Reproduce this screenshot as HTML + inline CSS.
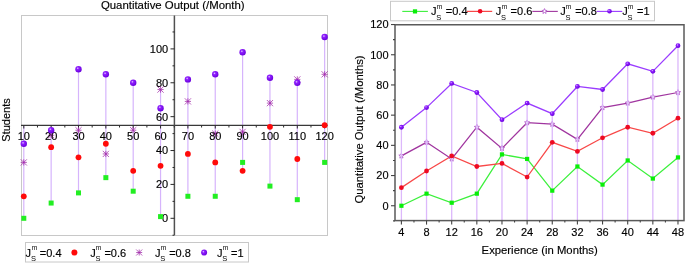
<!DOCTYPE html>
<html><head><meta charset="utf-8"><style>
html,body{margin:0;padding:0;background:#fff;}
svg{display:block;will-change:transform;}
text{font-family:"Liberation Sans", sans-serif;fill:#000;stroke:#000;stroke-width:0.15px;}
text.sm{stroke:none;}
</style></head><body>
<svg width="685" height="263" viewBox="0 0 685 263">
<defs>
<radialGradient id="gb" cx="0.38" cy="0.35" r="0.65">
<stop offset="0" stop-color="#e4ccff"/>
<stop offset="0.3" stop-color="#9020ff"/>
<stop offset="1" stop-color="#6a00dd"/>
</radialGradient>
</defs>
<rect width="685" height="263" fill="#fff"/>
<rect x="21.5" y="15.5" width="306" height="220" fill="none" stroke="#c8c8c8" stroke-width="1"/>
<text x="172.75" y="8.6" font-size="11.4" text-anchor="middle">Quantitative Output (/Month)</text>
<text transform="translate(9.8,120) rotate(-90)" font-size="11" text-anchor="middle">Students</text>
<line x1="23.80" x2="23.80" y1="125.50" y2="218.30" stroke="#d6b4fc" stroke-width="1.2"/>
<line x1="51.15" x2="51.15" y1="125.50" y2="203.05" stroke="#d6b4fc" stroke-width="1.2"/>
<line x1="78.50" x2="78.50" y1="69.23" y2="192.89" stroke="#d6b4fc" stroke-width="1.2"/>
<line x1="105.85" x2="105.85" y1="74.31" y2="177.64" stroke="#d6b4fc" stroke-width="1.2"/>
<line x1="133.20" x2="133.20" y1="82.78" y2="191.20" stroke="#d6b4fc" stroke-width="1.2"/>
<line x1="160.55" x2="160.55" y1="89.56" y2="216.61" stroke="#d6b4fc" stroke-width="1.2"/>
<line x1="187.90" x2="187.90" y1="79.39" y2="196.28" stroke="#d6b4fc" stroke-width="1.2"/>
<line x1="215.25" x2="215.25" y1="74.31" y2="196.28" stroke="#d6b4fc" stroke-width="1.2"/>
<line x1="242.60" x2="242.60" y1="52.29" y2="170.87" stroke="#d6b4fc" stroke-width="1.2"/>
<line x1="269.95" x2="269.95" y1="77.70" y2="186.11" stroke="#d6b4fc" stroke-width="1.2"/>
<line x1="297.30" x2="297.30" y1="79.39" y2="199.67" stroke="#d6b4fc" stroke-width="1.2"/>
<line x1="324.65" x2="324.65" y1="37.04" y2="162.40" stroke="#d6b4fc" stroke-width="1.2"/>
<line x1="21" x2="327.5" y1="125.4" y2="125.4" stroke="#383838" stroke-width="1.2"/>
<line x1="174.4" x2="174.4" y1="15.5" y2="235" stroke="#505050" stroke-width="1.5"/>
<line x1="23.80" x2="23.80" y1="125.5" y2="128.5" stroke="#2a2a2a" stroke-width="1"/>
<line x1="37.48" x2="37.48" y1="125.5" y2="127.5" stroke="#2a2a2a" stroke-width="1"/>
<line x1="51.15" x2="51.15" y1="125.5" y2="128.5" stroke="#2a2a2a" stroke-width="1"/>
<line x1="64.83" x2="64.83" y1="125.5" y2="127.5" stroke="#2a2a2a" stroke-width="1"/>
<line x1="78.50" x2="78.50" y1="125.5" y2="128.5" stroke="#2a2a2a" stroke-width="1"/>
<line x1="92.17" x2="92.17" y1="125.5" y2="127.5" stroke="#2a2a2a" stroke-width="1"/>
<line x1="105.85" x2="105.85" y1="125.5" y2="128.5" stroke="#2a2a2a" stroke-width="1"/>
<line x1="119.52" x2="119.52" y1="125.5" y2="127.5" stroke="#2a2a2a" stroke-width="1"/>
<line x1="133.20" x2="133.20" y1="125.5" y2="128.5" stroke="#2a2a2a" stroke-width="1"/>
<line x1="146.88" x2="146.88" y1="125.5" y2="127.5" stroke="#2a2a2a" stroke-width="1"/>
<line x1="160.55" x2="160.55" y1="125.5" y2="128.5" stroke="#2a2a2a" stroke-width="1"/>
<line x1="174.22" x2="174.22" y1="125.5" y2="127.5" stroke="#2a2a2a" stroke-width="1"/>
<line x1="187.90" x2="187.90" y1="125.5" y2="128.5" stroke="#2a2a2a" stroke-width="1"/>
<line x1="201.58" x2="201.58" y1="125.5" y2="127.5" stroke="#2a2a2a" stroke-width="1"/>
<line x1="215.25" x2="215.25" y1="125.5" y2="128.5" stroke="#2a2a2a" stroke-width="1"/>
<line x1="228.93" x2="228.93" y1="125.5" y2="127.5" stroke="#2a2a2a" stroke-width="1"/>
<line x1="242.60" x2="242.60" y1="125.5" y2="128.5" stroke="#2a2a2a" stroke-width="1"/>
<line x1="256.27" x2="256.27" y1="125.5" y2="127.5" stroke="#2a2a2a" stroke-width="1"/>
<line x1="269.95" x2="269.95" y1="125.5" y2="128.5" stroke="#2a2a2a" stroke-width="1"/>
<line x1="283.62" x2="283.62" y1="125.5" y2="127.5" stroke="#2a2a2a" stroke-width="1"/>
<line x1="297.30" x2="297.30" y1="125.5" y2="128.5" stroke="#2a2a2a" stroke-width="1"/>
<line x1="310.98" x2="310.98" y1="125.5" y2="127.5" stroke="#2a2a2a" stroke-width="1"/>
<line x1="324.65" x2="324.65" y1="125.5" y2="128.5" stroke="#2a2a2a" stroke-width="1"/>
<line x1="172.5" x2="174.5" y1="235.24" y2="235.24" stroke="#2a2a2a" stroke-width="1"/>
<line x1="170.5" x2="174.5" y1="218.30" y2="218.30" stroke="#2a2a2a" stroke-width="1"/>
<line x1="172.5" x2="174.5" y1="201.36" y2="201.36" stroke="#2a2a2a" stroke-width="1"/>
<line x1="170.5" x2="174.5" y1="184.42" y2="184.42" stroke="#2a2a2a" stroke-width="1"/>
<line x1="172.5" x2="174.5" y1="167.48" y2="167.48" stroke="#2a2a2a" stroke-width="1"/>
<line x1="170.5" x2="174.5" y1="150.54" y2="150.54" stroke="#2a2a2a" stroke-width="1"/>
<line x1="172.5" x2="174.5" y1="133.60" y2="133.60" stroke="#2a2a2a" stroke-width="1"/>
<line x1="170.5" x2="174.5" y1="116.66" y2="116.66" stroke="#2a2a2a" stroke-width="1"/>
<line x1="172.5" x2="174.5" y1="99.72" y2="99.72" stroke="#2a2a2a" stroke-width="1"/>
<line x1="170.5" x2="174.5" y1="82.78" y2="82.78" stroke="#2a2a2a" stroke-width="1"/>
<line x1="172.5" x2="174.5" y1="65.84" y2="65.84" stroke="#2a2a2a" stroke-width="1"/>
<line x1="170.5" x2="174.5" y1="48.90" y2="48.90" stroke="#2a2a2a" stroke-width="1"/>
<line x1="172.5" x2="174.5" y1="31.96" y2="31.96" stroke="#2a2a2a" stroke-width="1"/>
<text x="168.2" y="222.20" font-size="11" text-anchor="end">0</text>
<text x="168.2" y="188.32" font-size="11" text-anchor="end">20</text>
<text x="168.2" y="154.44" font-size="11" text-anchor="end">40</text>
<text x="168.2" y="120.56" font-size="11" text-anchor="end">60</text>
<text x="168.2" y="86.68" font-size="11" text-anchor="end">80</text>
<text x="168.2" y="52.80" font-size="11" text-anchor="end">100</text>
<rect x="21.30" y="215.80" width="5" height="5" fill="#22ee22"/>
<rect x="48.65" y="200.55" width="5" height="5" fill="#22ee22"/>
<rect x="76.00" y="190.39" width="5" height="5" fill="#22ee22"/>
<rect x="103.35" y="175.14" width="5" height="5" fill="#22ee22"/>
<rect x="130.70" y="188.70" width="5" height="5" fill="#22ee22"/>
<rect x="158.05" y="214.11" width="5" height="5" fill="#22ee22"/>
<rect x="185.40" y="193.78" width="5" height="5" fill="#22ee22"/>
<rect x="212.75" y="193.78" width="5" height="5" fill="#22ee22"/>
<rect x="240.10" y="159.90" width="5" height="5" fill="#22ee22"/>
<rect x="267.45" y="183.61" width="5" height="5" fill="#22ee22"/>
<rect x="294.80" y="197.17" width="5" height="5" fill="#22ee22"/>
<rect x="322.15" y="159.90" width="5" height="5" fill="#22ee22"/>
<circle cx="23.80" cy="196.28" r="2.9" fill="#ff0a0a"/>
<circle cx="51.15" cy="147.15" r="2.9" fill="#ff0a0a"/>
<circle cx="78.50" cy="157.32" r="2.9" fill="#ff0a0a"/>
<circle cx="105.85" cy="143.76" r="2.9" fill="#ff0a0a"/>
<circle cx="133.20" cy="170.87" r="2.9" fill="#ff0a0a"/>
<circle cx="160.55" cy="165.79" r="2.9" fill="#ff0a0a"/>
<circle cx="187.90" cy="153.93" r="2.9" fill="#ff0a0a"/>
<circle cx="215.25" cy="162.40" r="2.9" fill="#ff0a0a"/>
<circle cx="242.60" cy="170.87" r="2.9" fill="#ff0a0a"/>
<circle cx="269.95" cy="126.82" r="2.9" fill="#ff0a0a"/>
<circle cx="297.30" cy="159.01" r="2.9" fill="#ff0a0a"/>
<circle cx="324.65" cy="125.13" r="2.9" fill="#ff0a0a"/>
<line x1="20.70" y1="162.40" x2="26.90" y2="162.40" stroke="#a02aa8" stroke-width="0.75"/><line x1="23.80" y1="159.30" x2="23.80" y2="165.50" stroke="#a02aa8" stroke-width="0.75"/><line x1="20.70" y1="159.30" x2="26.90" y2="165.50" stroke="#a02aa8" stroke-width="0.75"/><line x1="20.70" y1="165.50" x2="26.90" y2="159.30" stroke="#a02aa8" stroke-width="0.75"/>
<line x1="48.05" y1="135.29" x2="54.25" y2="135.29" stroke="#a02aa8" stroke-width="0.75"/><line x1="51.15" y1="132.19" x2="51.15" y2="138.39" stroke="#a02aa8" stroke-width="0.75"/><line x1="48.05" y1="132.19" x2="54.25" y2="138.39" stroke="#a02aa8" stroke-width="0.75"/><line x1="48.05" y1="138.39" x2="54.25" y2="132.19" stroke="#a02aa8" stroke-width="0.75"/>
<line x1="75.40" y1="130.21" x2="81.60" y2="130.21" stroke="#a02aa8" stroke-width="0.75"/><line x1="78.50" y1="127.11" x2="78.50" y2="133.31" stroke="#a02aa8" stroke-width="0.75"/><line x1="75.40" y1="127.11" x2="81.60" y2="133.31" stroke="#a02aa8" stroke-width="0.75"/><line x1="75.40" y1="133.31" x2="81.60" y2="127.11" stroke="#a02aa8" stroke-width="0.75"/>
<line x1="102.75" y1="153.93" x2="108.95" y2="153.93" stroke="#a02aa8" stroke-width="0.75"/><line x1="105.85" y1="150.83" x2="105.85" y2="157.03" stroke="#a02aa8" stroke-width="0.75"/><line x1="102.75" y1="150.83" x2="108.95" y2="157.03" stroke="#a02aa8" stroke-width="0.75"/><line x1="102.75" y1="157.03" x2="108.95" y2="150.83" stroke="#a02aa8" stroke-width="0.75"/>
<line x1="130.10" y1="130.21" x2="136.30" y2="130.21" stroke="#a02aa8" stroke-width="0.75"/><line x1="133.20" y1="127.11" x2="133.20" y2="133.31" stroke="#a02aa8" stroke-width="0.75"/><line x1="130.10" y1="127.11" x2="136.30" y2="133.31" stroke="#a02aa8" stroke-width="0.75"/><line x1="130.10" y1="133.31" x2="136.30" y2="127.11" stroke="#a02aa8" stroke-width="0.75"/>
<line x1="157.45" y1="89.56" x2="163.65" y2="89.56" stroke="#a02aa8" stroke-width="0.75"/><line x1="160.55" y1="86.46" x2="160.55" y2="92.66" stroke="#a02aa8" stroke-width="0.75"/><line x1="157.45" y1="86.46" x2="163.65" y2="92.66" stroke="#a02aa8" stroke-width="0.75"/><line x1="157.45" y1="92.66" x2="163.65" y2="86.46" stroke="#a02aa8" stroke-width="0.75"/>
<line x1="184.80" y1="101.41" x2="191.00" y2="101.41" stroke="#a02aa8" stroke-width="0.75"/><line x1="187.90" y1="98.31" x2="187.90" y2="104.51" stroke="#a02aa8" stroke-width="0.75"/><line x1="184.80" y1="98.31" x2="191.00" y2="104.51" stroke="#a02aa8" stroke-width="0.75"/><line x1="184.80" y1="104.51" x2="191.00" y2="98.31" stroke="#a02aa8" stroke-width="0.75"/>
<line x1="212.15" y1="133.60" x2="218.35" y2="133.60" stroke="#a02aa8" stroke-width="0.75"/><line x1="215.25" y1="130.50" x2="215.25" y2="136.70" stroke="#a02aa8" stroke-width="0.75"/><line x1="212.15" y1="130.50" x2="218.35" y2="136.70" stroke="#a02aa8" stroke-width="0.75"/><line x1="212.15" y1="136.70" x2="218.35" y2="130.50" stroke="#a02aa8" stroke-width="0.75"/>
<line x1="239.50" y1="131.91" x2="245.70" y2="131.91" stroke="#a02aa8" stroke-width="0.75"/><line x1="242.60" y1="128.81" x2="242.60" y2="135.01" stroke="#a02aa8" stroke-width="0.75"/><line x1="239.50" y1="128.81" x2="245.70" y2="135.01" stroke="#a02aa8" stroke-width="0.75"/><line x1="239.50" y1="135.01" x2="245.70" y2="128.81" stroke="#a02aa8" stroke-width="0.75"/>
<line x1="266.85" y1="103.11" x2="273.05" y2="103.11" stroke="#a02aa8" stroke-width="0.75"/><line x1="269.95" y1="100.01" x2="269.95" y2="106.21" stroke="#a02aa8" stroke-width="0.75"/><line x1="266.85" y1="100.01" x2="273.05" y2="106.21" stroke="#a02aa8" stroke-width="0.75"/><line x1="266.85" y1="106.21" x2="273.05" y2="100.01" stroke="#a02aa8" stroke-width="0.75"/>
<line x1="294.20" y1="79.39" x2="300.40" y2="79.39" stroke="#a02aa8" stroke-width="0.75"/><line x1="297.30" y1="76.29" x2="297.30" y2="82.49" stroke="#a02aa8" stroke-width="0.75"/><line x1="294.20" y1="76.29" x2="300.40" y2="82.49" stroke="#a02aa8" stroke-width="0.75"/><line x1="294.20" y1="82.49" x2="300.40" y2="76.29" stroke="#a02aa8" stroke-width="0.75"/>
<line x1="321.55" y1="74.31" x2="327.75" y2="74.31" stroke="#a02aa8" stroke-width="0.75"/><line x1="324.65" y1="71.21" x2="324.65" y2="77.41" stroke="#a02aa8" stroke-width="0.75"/><line x1="321.55" y1="71.21" x2="327.75" y2="77.41" stroke="#a02aa8" stroke-width="0.75"/><line x1="321.55" y1="77.41" x2="327.75" y2="71.21" stroke="#a02aa8" stroke-width="0.75"/>
<text x="23.80" y="140.2" font-size="11" text-anchor="middle">10</text>
<text x="51.15" y="140.2" font-size="11" text-anchor="middle">20</text>
<text x="78.50" y="140.2" font-size="11" text-anchor="middle">30</text>
<text x="105.85" y="140.2" font-size="11" text-anchor="middle">40</text>
<text x="133.20" y="140.2" font-size="11" text-anchor="middle">50</text>
<text x="160.55" y="140.2" font-size="11" text-anchor="middle">60</text>
<text x="187.90" y="140.2" font-size="11" text-anchor="middle">70</text>
<text x="215.25" y="140.2" font-size="11" text-anchor="middle">80</text>
<text x="242.60" y="140.2" font-size="11" text-anchor="middle">90</text>
<text x="269.95" y="140.2" font-size="11" text-anchor="middle">100</text>
<text x="297.30" y="140.2" font-size="11" text-anchor="middle">110</text>
<text x="324.65" y="140.2" font-size="11" text-anchor="middle">120</text>
<circle cx="23.80" cy="143.76" r="3.2" fill="url(#gb)"/>
<circle cx="51.15" cy="130.21" r="3.2" fill="url(#gb)"/>
<circle cx="78.50" cy="69.23" r="3.2" fill="url(#gb)"/>
<circle cx="105.85" cy="74.31" r="3.2" fill="url(#gb)"/>
<circle cx="133.20" cy="82.78" r="3.2" fill="url(#gb)"/>
<circle cx="160.55" cy="108.19" r="3.2" fill="url(#gb)"/>
<circle cx="187.90" cy="79.39" r="3.2" fill="url(#gb)"/>
<circle cx="215.25" cy="74.31" r="3.2" fill="url(#gb)"/>
<circle cx="242.60" cy="52.29" r="3.2" fill="url(#gb)"/>
<circle cx="269.95" cy="77.70" r="3.2" fill="url(#gb)"/>
<circle cx="297.30" cy="82.78" r="3.2" fill="url(#gb)"/>
<circle cx="324.65" cy="37.04" r="3.2" fill="url(#gb)"/>
<rect x="25.5" y="242.5" width="223" height="19.5" fill="#fff" stroke="#c8c8c8" stroke-width="1"/>
<text x="25.6" y="256.5" font-size="11">J</text><text x="31.7" y="249.8" font-size="6.6" class="sm">m</text><text x="30.900000000000002" y="260.9" font-size="7.5" class="sm">S</text><text x="39.8" y="256.5" font-size="11">=0.4</text>
<circle cx="74.4" cy="252.6" r="3" fill="#ff0a0a"/>
<text x="90.2" y="256.5" font-size="11">J</text><text x="95.7" y="249.8" font-size="6.6" class="sm">m</text><text x="95.5" y="260.9" font-size="7.5" class="sm">S</text><text x="104.4" y="256.5" font-size="11">=0.6</text>
<line x1="136.20" y1="252.50" x2="142.20" y2="252.50" stroke="#a02aa8" stroke-width="0.75"/><line x1="139.20" y1="249.50" x2="139.20" y2="255.50" stroke="#a02aa8" stroke-width="0.75"/><line x1="136.20" y1="249.50" x2="142.20" y2="255.50" stroke="#a02aa8" stroke-width="0.75"/><line x1="136.20" y1="255.50" x2="142.20" y2="249.50" stroke="#a02aa8" stroke-width="0.75"/>
<text x="155" y="256.5" font-size="11">J</text><text x="160.7" y="249.8" font-size="6.6" class="sm">m</text><text x="160.3" y="260.9" font-size="7.5" class="sm">S</text><text x="169.2" y="256.5" font-size="11">=0.8</text>
<circle cx="204.10" cy="252.60" r="3" fill="url(#gb)"/>
<text x="216.9" y="256.5" font-size="11">J</text><text x="222.7" y="249.8" font-size="6.6" class="sm">m</text><text x="222.20000000000002" y="260.9" font-size="7.5" class="sm">S</text><text x="231.1" y="256.5" font-size="11">=1</text>
<line x1="401.40" x2="401.40" y1="127.23" y2="220.6" stroke="#dcb8fb" stroke-width="1.3"/>
<line x1="426.54" x2="426.54" y1="107.60" y2="220.6" stroke="#dcb8fb" stroke-width="1.3"/>
<line x1="451.69" x2="451.69" y1="83.44" y2="220.6" stroke="#dcb8fb" stroke-width="1.3"/>
<line x1="476.83" x2="476.83" y1="92.50" y2="220.6" stroke="#dcb8fb" stroke-width="1.3"/>
<line x1="501.98" x2="501.98" y1="119.68" y2="220.6" stroke="#dcb8fb" stroke-width="1.3"/>
<line x1="527.12" x2="527.12" y1="103.07" y2="220.6" stroke="#dcb8fb" stroke-width="1.3"/>
<line x1="552.26" x2="552.26" y1="113.64" y2="220.6" stroke="#dcb8fb" stroke-width="1.3"/>
<line x1="577.41" x2="577.41" y1="86.46" y2="220.6" stroke="#dcb8fb" stroke-width="1.3"/>
<line x1="602.55" x2="602.55" y1="89.48" y2="220.6" stroke="#dcb8fb" stroke-width="1.3"/>
<line x1="627.70" x2="627.70" y1="63.81" y2="220.6" stroke="#dcb8fb" stroke-width="1.3"/>
<line x1="652.84" x2="652.84" y1="71.36" y2="220.6" stroke="#dcb8fb" stroke-width="1.3"/>
<line x1="677.98" x2="677.98" y1="45.69" y2="220.6" stroke="#dcb8fb" stroke-width="1.3"/>
<polyline points="401.40,205.75 426.54,193.67 451.69,202.73 476.83,193.67 501.98,154.41 527.12,158.94 552.26,190.65 577.41,166.49 602.55,184.61 627.70,160.45 652.84,178.57 677.98,157.43" fill="none" stroke="#3cf03c" stroke-width="1.25"/>
<polyline points="401.40,187.63 426.54,171.02 451.69,155.92 476.83,166.49 501.98,163.47 527.12,177.06 552.26,142.33 577.41,151.39 602.55,137.80 627.70,127.23 652.84,133.27 677.98,118.17" fill="none" stroke="#f84848" stroke-width="1.25"/>
<polyline points="401.40,155.92 426.54,142.33 451.69,158.94 476.83,127.23 501.98,148.37 527.12,122.70 552.26,124.21 577.41,139.31 602.55,107.60 627.70,103.07 652.84,97.03 677.98,92.50" fill="none" stroke="#a0359f" stroke-width="1.25"/>
<polyline points="401.40,127.23 426.54,107.60 451.69,83.44 476.83,92.50 501.98,119.68 527.12,103.07 552.26,113.64 577.41,86.46 602.55,89.48 627.70,63.81 652.84,71.36 677.98,45.69" fill="none" stroke="#9a3cff" stroke-width="1.25"/>
<polygon points="401.40,153.22 402.11,154.94 403.97,155.09 402.56,156.30 402.99,158.10 401.40,157.14 399.81,158.10 400.24,156.30 398.83,155.09 400.69,154.94" fill="#fff" stroke="#b462cc" stroke-width="0.9"/>
<line x1="401.40" x2="401.40" y1="152.92" y2="158.92" stroke="#dcb8fb" stroke-width="1.3"/>
<polygon points="426.54,139.63 427.26,141.35 429.11,141.50 427.70,142.71 428.13,144.51 426.54,143.54 424.96,144.51 425.39,142.71 423.98,141.50 425.83,141.35" fill="#fff" stroke="#b462cc" stroke-width="0.9"/>
<line x1="426.54" x2="426.54" y1="139.33" y2="145.33" stroke="#dcb8fb" stroke-width="1.3"/>
<polygon points="451.69,156.24 452.40,157.96 454.26,158.11 452.84,159.32 453.28,161.12 451.69,160.16 450.10,161.12 450.53,159.32 449.12,158.11 450.97,157.96" fill="#fff" stroke="#b462cc" stroke-width="0.9"/>
<line x1="451.69" x2="451.69" y1="155.94" y2="161.94" stroke="#dcb8fb" stroke-width="1.3"/>
<polygon points="476.83,124.53 477.55,126.25 479.40,126.40 477.99,127.61 478.42,129.41 476.83,128.44 475.24,129.41 475.68,127.61 474.26,126.40 476.12,126.25" fill="#fff" stroke="#b462cc" stroke-width="0.9"/>
<line x1="476.83" x2="476.83" y1="124.23" y2="130.23" stroke="#dcb8fb" stroke-width="1.3"/>
<polygon points="501.98,145.67 502.69,147.39 504.54,147.54 503.13,148.75 503.56,150.55 501.98,149.59 500.39,150.55 500.82,148.75 499.41,147.54 501.26,147.39" fill="#fff" stroke="#b462cc" stroke-width="0.9"/>
<line x1="501.98" x2="501.98" y1="145.37" y2="151.37" stroke="#dcb8fb" stroke-width="1.3"/>
<polygon points="527.12,120.00 527.83,121.72 529.69,121.87 528.28,123.08 528.71,124.88 527.12,123.92 525.53,124.88 525.96,123.08 524.55,121.87 526.41,121.72" fill="#fff" stroke="#b462cc" stroke-width="0.9"/>
<line x1="527.12" x2="527.12" y1="119.70" y2="125.70" stroke="#dcb8fb" stroke-width="1.3"/>
<polygon points="552.26,121.51 552.98,123.23 554.83,123.38 553.42,124.59 553.85,126.39 552.26,125.42 550.68,126.39 551.11,124.59 549.70,123.38 551.55,123.23" fill="#fff" stroke="#b462cc" stroke-width="0.9"/>
<line x1="552.26" x2="552.26" y1="121.21" y2="127.21" stroke="#dcb8fb" stroke-width="1.3"/>
<polygon points="577.41,136.61 578.12,138.33 579.98,138.48 578.56,139.69 579.00,141.49 577.41,140.53 575.82,141.49 576.25,139.69 574.84,138.48 576.69,138.33" fill="#fff" stroke="#b462cc" stroke-width="0.9"/>
<line x1="577.41" x2="577.41" y1="136.31" y2="142.31" stroke="#dcb8fb" stroke-width="1.3"/>
<polygon points="602.55,104.90 603.27,106.62 605.12,106.77 603.71,107.98 604.14,109.78 602.55,108.81 600.96,109.78 601.40,107.98 599.98,106.77 601.84,106.62" fill="#fff" stroke="#b462cc" stroke-width="0.9"/>
<line x1="602.55" x2="602.55" y1="104.60" y2="110.60" stroke="#dcb8fb" stroke-width="1.3"/>
<polygon points="627.70,100.37 628.41,102.09 630.26,102.24 628.85,103.45 629.28,105.25 627.70,104.28 626.11,105.25 626.54,103.45 625.13,102.24 626.98,102.09" fill="#fff" stroke="#b462cc" stroke-width="0.9"/>
<line x1="627.70" x2="627.70" y1="100.07" y2="106.07" stroke="#dcb8fb" stroke-width="1.3"/>
<polygon points="652.84,94.33 653.55,96.05 655.41,96.20 654.00,97.41 654.43,99.21 652.84,98.25 651.25,99.21 651.68,97.41 650.27,96.20 652.13,96.05" fill="#fff" stroke="#b462cc" stroke-width="0.9"/>
<line x1="652.84" x2="652.84" y1="94.03" y2="100.03" stroke="#dcb8fb" stroke-width="1.3"/>
<polygon points="677.98,89.80 678.70,91.52 680.55,91.67 679.14,92.88 679.57,94.68 677.98,93.72 676.40,94.68 676.83,92.88 675.42,91.67 677.27,91.52" fill="#fff" stroke="#b462cc" stroke-width="0.9"/>
<line x1="677.98" x2="677.98" y1="89.50" y2="95.50" stroke="#dcb8fb" stroke-width="1.3"/>
<rect x="399.30" y="203.65" width="4.2" height="4.2" fill="#0aee0a"/>
<rect x="424.44" y="191.57" width="4.2" height="4.2" fill="#0aee0a"/>
<rect x="449.59" y="200.63" width="4.2" height="4.2" fill="#0aee0a"/>
<rect x="474.73" y="191.57" width="4.2" height="4.2" fill="#0aee0a"/>
<rect x="499.88" y="152.31" width="4.2" height="4.2" fill="#0aee0a"/>
<rect x="525.02" y="156.84" width="4.2" height="4.2" fill="#0aee0a"/>
<rect x="550.16" y="188.55" width="4.2" height="4.2" fill="#0aee0a"/>
<rect x="575.31" y="164.39" width="4.2" height="4.2" fill="#0aee0a"/>
<rect x="600.45" y="182.51" width="4.2" height="4.2" fill="#0aee0a"/>
<rect x="625.60" y="158.35" width="4.2" height="4.2" fill="#0aee0a"/>
<rect x="650.74" y="176.47" width="4.2" height="4.2" fill="#0aee0a"/>
<rect x="675.88" y="155.33" width="4.2" height="4.2" fill="#0aee0a"/>
<circle cx="401.40" cy="187.63" r="2.4" fill="#ee0a22"/>
<circle cx="426.54" cy="171.02" r="2.4" fill="#ee0a22"/>
<circle cx="451.69" cy="155.92" r="2.4" fill="#ee0a22"/>
<circle cx="476.83" cy="166.49" r="2.4" fill="#ee0a22"/>
<circle cx="501.98" cy="163.47" r="2.4" fill="#ee0a22"/>
<circle cx="527.12" cy="177.06" r="2.4" fill="#ee0a22"/>
<circle cx="552.26" cy="142.33" r="2.4" fill="#ee0a22"/>
<circle cx="577.41" cy="151.39" r="2.4" fill="#ee0a22"/>
<circle cx="602.55" cy="137.80" r="2.4" fill="#ee0a22"/>
<circle cx="627.70" cy="127.23" r="2.4" fill="#ee0a22"/>
<circle cx="652.84" cy="133.27" r="2.4" fill="#ee0a22"/>
<circle cx="677.98" cy="118.17" r="2.4" fill="#ee0a22"/>
<circle cx="401.40" cy="127.23" r="2.4" fill="url(#gb)"/>
<circle cx="426.54" cy="107.60" r="2.4" fill="url(#gb)"/>
<circle cx="451.69" cy="83.44" r="2.4" fill="url(#gb)"/>
<circle cx="476.83" cy="92.50" r="2.4" fill="url(#gb)"/>
<circle cx="501.98" cy="119.68" r="2.4" fill="url(#gb)"/>
<circle cx="527.12" cy="103.07" r="2.4" fill="url(#gb)"/>
<circle cx="552.26" cy="113.64" r="2.4" fill="url(#gb)"/>
<circle cx="577.41" cy="86.46" r="2.4" fill="url(#gb)"/>
<circle cx="602.55" cy="89.48" r="2.4" fill="url(#gb)"/>
<circle cx="627.70" cy="63.81" r="2.4" fill="url(#gb)"/>
<circle cx="652.84" cy="71.36" r="2.4" fill="url(#gb)"/>
<circle cx="677.98" cy="45.69" r="2.4" fill="url(#gb)"/>
<rect x="395" y="24.75" width="289" height="195.85" fill="none" stroke="#5a5a5a" stroke-width="1.5"/>
<line x1="393" x2="395" y1="220.85" y2="220.85" stroke="#444" stroke-width="1.1"/>
<line x1="391" x2="395" y1="205.75" y2="205.75" stroke="#444" stroke-width="1.1"/>
<line x1="393" x2="395" y1="190.65" y2="190.65" stroke="#444" stroke-width="1.1"/>
<line x1="391" x2="395" y1="175.55" y2="175.55" stroke="#444" stroke-width="1.1"/>
<line x1="393" x2="395" y1="160.45" y2="160.45" stroke="#444" stroke-width="1.1"/>
<line x1="391" x2="395" y1="145.35" y2="145.35" stroke="#444" stroke-width="1.1"/>
<line x1="393" x2="395" y1="130.25" y2="130.25" stroke="#444" stroke-width="1.1"/>
<line x1="391" x2="395" y1="115.15" y2="115.15" stroke="#444" stroke-width="1.1"/>
<line x1="393" x2="395" y1="100.05" y2="100.05" stroke="#444" stroke-width="1.1"/>
<line x1="391" x2="395" y1="84.95" y2="84.95" stroke="#444" stroke-width="1.1"/>
<line x1="393" x2="395" y1="69.85" y2="69.85" stroke="#444" stroke-width="1.1"/>
<line x1="391" x2="395" y1="54.75" y2="54.75" stroke="#444" stroke-width="1.1"/>
<line x1="393" x2="395" y1="39.65" y2="39.65" stroke="#444" stroke-width="1.1"/>
<line x1="391" x2="395" y1="24.55" y2="24.55" stroke="#444" stroke-width="1.1"/>
<text x="388.6" y="209.55" font-size="11" text-anchor="end">0</text>
<text x="388.6" y="179.35" font-size="11" text-anchor="end">20</text>
<text x="388.6" y="149.15" font-size="11" text-anchor="end">40</text>
<text x="388.6" y="118.95" font-size="11" text-anchor="end">60</text>
<text x="388.6" y="88.75" font-size="11" text-anchor="end">80</text>
<text x="388.6" y="58.55" font-size="11" text-anchor="end">100</text>
<text x="388.6" y="28.35" font-size="11" text-anchor="end">120</text>
<line x1="401.40" x2="401.40" y1="220.6" y2="224.6" stroke="#444" stroke-width="1.1"/>
<line x1="413.97" x2="413.97" y1="220.6" y2="222.6" stroke="#444" stroke-width="1.1"/>
<line x1="426.54" x2="426.54" y1="220.6" y2="224.6" stroke="#444" stroke-width="1.1"/>
<line x1="439.12" x2="439.12" y1="220.6" y2="222.6" stroke="#444" stroke-width="1.1"/>
<line x1="451.69" x2="451.69" y1="220.6" y2="224.6" stroke="#444" stroke-width="1.1"/>
<line x1="464.26" x2="464.26" y1="220.6" y2="222.6" stroke="#444" stroke-width="1.1"/>
<line x1="476.83" x2="476.83" y1="220.6" y2="224.6" stroke="#444" stroke-width="1.1"/>
<line x1="489.40" x2="489.40" y1="220.6" y2="222.6" stroke="#444" stroke-width="1.1"/>
<line x1="501.98" x2="501.98" y1="220.6" y2="224.6" stroke="#444" stroke-width="1.1"/>
<line x1="514.55" x2="514.55" y1="220.6" y2="222.6" stroke="#444" stroke-width="1.1"/>
<line x1="527.12" x2="527.12" y1="220.6" y2="224.6" stroke="#444" stroke-width="1.1"/>
<line x1="539.69" x2="539.69" y1="220.6" y2="222.6" stroke="#444" stroke-width="1.1"/>
<line x1="552.26" x2="552.26" y1="220.6" y2="224.6" stroke="#444" stroke-width="1.1"/>
<line x1="564.84" x2="564.84" y1="220.6" y2="222.6" stroke="#444" stroke-width="1.1"/>
<line x1="577.41" x2="577.41" y1="220.6" y2="224.6" stroke="#444" stroke-width="1.1"/>
<line x1="589.98" x2="589.98" y1="220.6" y2="222.6" stroke="#444" stroke-width="1.1"/>
<line x1="602.55" x2="602.55" y1="220.6" y2="224.6" stroke="#444" stroke-width="1.1"/>
<line x1="615.12" x2="615.12" y1="220.6" y2="222.6" stroke="#444" stroke-width="1.1"/>
<line x1="627.70" x2="627.70" y1="220.6" y2="224.6" stroke="#444" stroke-width="1.1"/>
<line x1="640.27" x2="640.27" y1="220.6" y2="222.6" stroke="#444" stroke-width="1.1"/>
<line x1="652.84" x2="652.84" y1="220.6" y2="224.6" stroke="#444" stroke-width="1.1"/>
<line x1="665.41" x2="665.41" y1="220.6" y2="222.6" stroke="#444" stroke-width="1.1"/>
<line x1="677.98" x2="677.98" y1="220.6" y2="224.6" stroke="#444" stroke-width="1.1"/>
<text x="401.40" y="235.8" font-size="11" text-anchor="middle">4</text>
<text x="426.54" y="235.8" font-size="11" text-anchor="middle">8</text>
<text x="451.69" y="235.8" font-size="11" text-anchor="middle">12</text>
<text x="476.83" y="235.8" font-size="11" text-anchor="middle">16</text>
<text x="501.98" y="235.8" font-size="11" text-anchor="middle">20</text>
<text x="527.12" y="235.8" font-size="11" text-anchor="middle">24</text>
<text x="552.26" y="235.8" font-size="11" text-anchor="middle">28</text>
<text x="577.41" y="235.8" font-size="11" text-anchor="middle">32</text>
<text x="602.55" y="235.8" font-size="11" text-anchor="middle">36</text>
<text x="627.70" y="235.8" font-size="11" text-anchor="middle">40</text>
<text x="652.84" y="235.8" font-size="11" text-anchor="middle">44</text>
<text x="677.98" y="235.8" font-size="11" text-anchor="middle">48</text>
<text x="539.7" y="254" font-size="11.3" text-anchor="middle">Experience (in Months)</text>
<text transform="translate(363.2,129.5) rotate(-90)" font-size="11.3" text-anchor="middle">Quantitative Output (/Months)</text>
<rect x="390.5" y="1.3" width="264" height="19.5" fill="#fff" stroke="#c8c8c8" stroke-width="1"/>
<line x1="402.3" x2="427.9" y1="11.4" y2="11.4" stroke="#3cf03c" stroke-width="1.1"/>
<rect x="412.9" y="9.3" width="4.2" height="4.2" fill="#0aee0a"/>
<line x1="466.7" x2="492.2" y1="11.4" y2="11.4" stroke="#f84848" stroke-width="1.25"/>
<circle cx="480.1" cy="11.3" r="2.3" fill="#ee0a22"/>
<line x1="532.3" x2="557.8" y1="11.4" y2="11.4" stroke="#a0359f" stroke-width="1.1"/>
<polygon points="544.50,8.60 545.21,10.32 547.07,10.47 545.66,11.68 546.09,13.48 544.50,12.52 542.91,13.48 543.34,11.68 541.93,10.47 543.79,10.32" fill="#fff" stroke="#b462cc" stroke-width="0.9"/>
<line x1="596.6" x2="622.2" y1="11.4" y2="11.4" stroke="#9a3cff" stroke-width="1.1"/>
<circle cx="609.50" cy="11.30" r="2.3" fill="url(#gb)"/>
<text x="430.9" y="15.3" font-size="11">J</text><text x="436.7" y="8.600000000000001" font-size="6.6" class="sm">m</text><text x="436.2" y="19.700000000000003" font-size="7.5" class="sm">S</text><text x="445.79999999999995" y="15.3" font-size="11">=0.4</text>
<text x="495.7" y="15.3" font-size="11">J</text><text x="501.7" y="8.600000000000001" font-size="6.6" class="sm">m</text><text x="501.0" y="19.700000000000003" font-size="7.5" class="sm">S</text><text x="510.59999999999997" y="15.3" font-size="11">=0.6</text>
<text x="560.3" y="15.3" font-size="11">J</text><text x="565.7" y="8.600000000000001" font-size="6.6" class="sm">m</text><text x="565.5999999999999" y="19.700000000000003" font-size="7.5" class="sm">S</text><text x="575.1999999999999" y="15.3" font-size="11">=0.8</text>
<text x="622.2" y="15.3" font-size="11">J</text><text x="627.7" y="8.600000000000001" font-size="6.6" class="sm">m</text><text x="627.5" y="19.700000000000003" font-size="7.5" class="sm">S</text><text x="637.1" y="15.3" font-size="11">=1</text>
</svg>
</body></html>
